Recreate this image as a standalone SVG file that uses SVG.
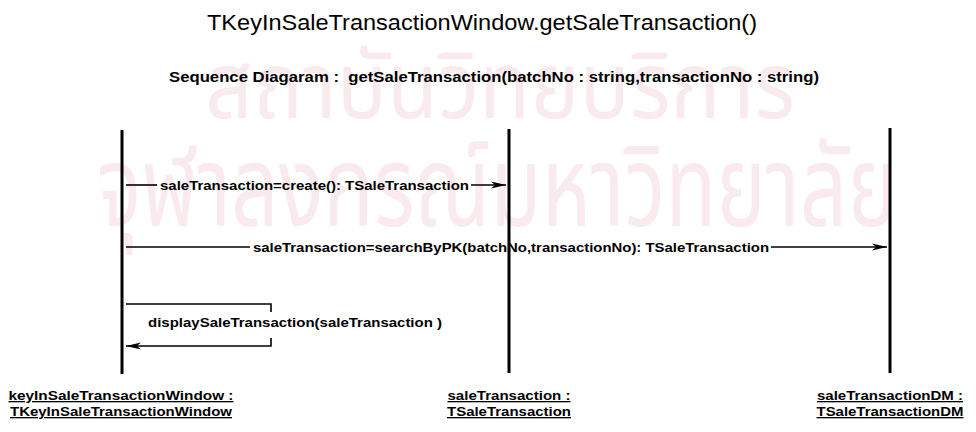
<svg xmlns="http://www.w3.org/2000/svg" width="976" height="432" viewBox="0 0 976 432">
<style>
.wm{font-family:"Noto Sans Thai","Loma","Garuda","DejaVu Sans",sans-serif;fill:#f9eaee;}
.title{font-family:"Liberation Sans",Arial,sans-serif;font-size:22px;fill:#000;}
.sub{font-family:"Liberation Sans",Arial,sans-serif;font-size:14px;font-weight:bold;fill:#000;}
.msg{font-family:"Liberation Sans",Arial,sans-serif;font-size:13px;font-weight:bold;fill:#000;}
.lbl{font-family:"Liberation Sans",Arial,sans-serif;font-size:13px;font-weight:bold;fill:#000;text-decoration:underline;}
.life{stroke:#000;stroke-width:3;fill:none;}
.conn{stroke:#000;stroke-width:1.6;fill:none;}
</style>
<defs>
<marker id="ah" markerWidth="16" markerHeight="9" refX="15" refY="4.5" orient="auto" markerUnits="userSpaceOnUse">
<path d="M0,1 L15,4.5 L0,8 L4,4.5 Z" fill="#000"/>
</marker>
</defs>
<rect width="976" height="432" fill="#fff"/>
<g id="watermark">
<text class="wm" transform="translate(500,118) scale(1,1.3)" x="0" y="0" font-size="72" text-anchor="middle" textLength="590" lengthAdjust="spacingAndGlyphs">สถาบันวิทยบริการ</text>
<text class="wm" transform="translate(497,226) scale(1,1.4)" x="0" y="0" font-size="80" text-anchor="middle" textLength="800" lengthAdjust="spacingAndGlyphs">จุฬาลงกรณ์มหาวิทยาลัย</text>
</g>
<g id="title">
<text class="title" x="482" y="30" text-anchor="middle" textLength="550" lengthAdjust="spacingAndGlyphs">TKeyInSaleTransactionWindow.getSaleTransaction()</text>
<text class="sub" x="494" y="82" text-anchor="middle" textLength="650" lengthAdjust="spacingAndGlyphs" xml:space="preserve">Sequence Diagaram :  getSaleTransaction(batchNo : string,transactionNo : string)</text>
</g>
<g id="keyInSaleTransactionWindow">
<line class="life" x1="122" y1="130" x2="122" y2="374"/>
<text class="lbl" x="121" y="400" text-anchor="middle" textLength="225" lengthAdjust="spacingAndGlyphs">keyInSaleTransactionWindow :</text>
<text class="lbl" x="121" y="416" text-anchor="middle" textLength="222" lengthAdjust="spacingAndGlyphs">TKeyInSaleTransactionWindow</text>
</g>
<g id="saleTransaction">
<line class="life" x1="509" y1="129" x2="509" y2="373"/>
<text class="lbl" x="509" y="400" text-anchor="middle" textLength="123" lengthAdjust="spacingAndGlyphs">saleTransaction :</text>
<text class="lbl" x="509" y="416" text-anchor="middle" textLength="124" lengthAdjust="spacingAndGlyphs">TSaleTransaction</text>
</g>
<g id="saleTransactionDM">
<line class="life" x1="890" y1="128" x2="890" y2="373"/>
<text class="lbl" x="890" y="400" text-anchor="middle" textLength="146" lengthAdjust="spacingAndGlyphs">saleTransactionDM :</text>
<text class="lbl" x="890" y="416" text-anchor="middle" textLength="147" lengthAdjust="spacingAndGlyphs">TSaleTransactionDM</text>
</g>
<g id="connectors">
<line class="conn" x1="126" y1="185" x2="157" y2="185"/>
<text class="msg" x="160" y="190" textLength="309" lengthAdjust="spacingAndGlyphs">saleTransaction=create(): TSaleTransaction</text>
<line class="conn" x1="471" y1="185" x2="506" y2="185" marker-end="url(#ah)"/>
<line class="conn" x1="126" y1="247" x2="250" y2="247"/>
<text class="msg" x="253" y="252" textLength="516" lengthAdjust="spacingAndGlyphs">saleTransaction=searchByPK(batchNo,transactionNo): TSaleTransaction</text>
<line class="conn" x1="771" y1="247" x2="887" y2="247" marker-end="url(#ah)"/>
<polyline class="conn" points="126,304 271,304 271,312"/>
<text class="msg" x="148" y="327" textLength="294" lengthAdjust="spacingAndGlyphs">displaySaleTransaction(saleTransaction )</text>
<polyline class="conn" points="271,338 271,346 126,346" marker-end="url(#ah)"/>
</g>
</svg>
